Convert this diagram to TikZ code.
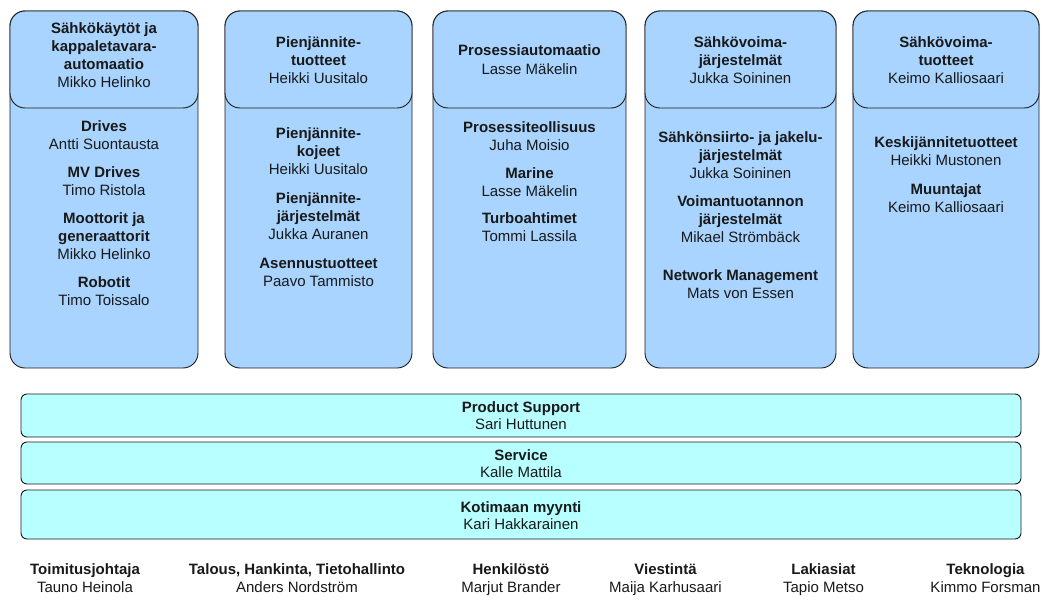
\documentclass[tikz,border=0pt]{standalone}
\usepackage{fontspec}
\setmainfont{Liberation Sans}
\definecolor{colblue}{HTML}{A8D4FF}
\definecolor{barcyan}{HTML}{B8FFFF}
\definecolor{edge}{HTML}{1A1A1A}
\newcommand\txtline[5]{\node[#4] (#1) at (#2,#3) {#5};}
\begin{document}
\begin{tikzpicture}[x=1pt,y=-1pt,
  colbox/.style={draw=edge,line width=0.9pt,fill=colblue,rounded corners=15pt},
  barbox/.style={draw=edge,line width=0.9pt,fill=barcyan,rounded corners=6pt},
  boldtxt/.style={anchor=base,inner sep=0pt,font=\fontsize{15}{18}\selectfont\bfseries,text=black!90},
  plaintxt/.style={anchor=base,inner sep=0pt,font=\fontsize{15}{18}\selectfont,text=black!90}]
\useasboundingbox (0,0) rectangle (1045,613);
% columns
\foreach \n/\l/\r in {1/10/198, 2/225/412, 3/433/626, 4/645/836, 5/853/1039}{
  \draw[colbox] (\l,11) rectangle (\r,368);
  \draw[colbox] (\l,11) rectangle (\r,108);
}
% column 1
\txtline{a1}{104}{33}{boldtxt}{Sähkökäytöt ja}
\txtline{a2}{104}{51}{boldtxt}{kappaletavara-}
\txtline{a3}{104}{69}{boldtxt}{automaatio}
\txtline{a4}{104}{87}{plaintxt}{Mikko Helinko}
\txtline{a5}{104}{131}{boldtxt}{Drives}
\txtline{a6}{104}{149}{plaintxt}{Antti Suontausta}
\txtline{a7}{104}{177}{boldtxt}{MV Drives}
\txtline{a8}{104}{195}{plaintxt}{Timo Ristola}
\txtline{a9}{104}{223}{boldtxt}{Moottorit ja}
\txtline{a10}{104}{241}{boldtxt}{generaattorit}
\txtline{a11}{104}{259}{plaintxt}{Mikko Helinko}
\txtline{a12}{104}{287}{boldtxt}{Robotit}
\txtline{a13}{104}{305}{plaintxt}{Timo Toissalo}
% column 2
\txtline{b1}{318.5}{47}{boldtxt}{Pienjännite-}
\txtline{b2}{318.5}{65}{boldtxt}{tuotteet}
\txtline{b3}{318.5}{83}{plaintxt}{Heikki Uusitalo}
\txtline{b4}{318.5}{138}{boldtxt}{Pienjännite-}
\txtline{b5}{318.5}{156}{boldtxt}{kojeet}
\txtline{b6}{318.5}{174}{plaintxt}{Heikki Uusitalo}
\txtline{b7}{318.5}{203}{boldtxt}{Pienjännite-}
\txtline{b8}{318.5}{221}{boldtxt}{järjestelmät}
\txtline{b9}{318.5}{239}{plaintxt}{Jukka Auranen}
\txtline{b10}{318.5}{268}{boldtxt}{Asennustuotteet}
\txtline{b11}{318.5}{286}{plaintxt}{Paavo Tammisto}
% column 3
\txtline{c1}{529.5}{56}{boldtxt}{Prosessiautomaatio}
\txtline{c2}{529.5}{74}{plaintxt}{Lasse Mäkelin}
\txtline{c3}{529.5}{132}{boldtxt}{Prosessiteollisuus}
\txtline{c4}{529.5}{150}{plaintxt}{Juha Moisio}
\txtline{c5}{529.5}{178}{boldtxt}{Marine}
\txtline{c6}{529.5}{196}{plaintxt}{Lasse Mäkelin}
\txtline{c7}{529.5}{223}{boldtxt}{Turboahtimet}
\txtline{c8}{529.5}{241}{plaintxt}{Tommi Lassila}
% column 4
\txtline{d1}{740.5}{47}{boldtxt}{Sähkövoima-}
\txtline{d2}{740.5}{65}{boldtxt}{järjestelmät}
\txtline{d3}{740.5}{83}{plaintxt}{Jukka Soininen}
\txtline{d4}{740.5}{142}{boldtxt}{Sähkönsiirto- ja jakelu-}
\txtline{d5}{740.5}{160}{boldtxt}{järjestelmät}
\txtline{d6}{740.5}{178}{plaintxt}{Jukka Soininen}
\txtline{d7}{740.5}{206}{boldtxt}{Voimantuotannon}
\txtline{d8}{740.5}{224}{boldtxt}{järjestelmät}
\txtline{d9}{740.5}{242}{plaintxt}{Mikael Strömbäck}
\txtline{d10}{740.5}{280}{boldtxt}{Network Management}
\txtline{d11}{740.5}{298}{plaintxt}{Mats von Essen}
% column 5
\txtline{e1}{946}{47}{boldtxt}{Sähkövoima-}
\txtline{e2}{946}{65}{boldtxt}{tuotteet}
\txtline{e3}{946}{83}{plaintxt}{Keimo Kalliosaari}
\txtline{e4}{946}{147}{boldtxt}{Keskijännitetuotteet}
\txtline{e5}{946}{165}{plaintxt}{Heikki Mustonen}
\txtline{e6}{946}{194}{boldtxt}{Muuntajat}
\txtline{e7}{946}{212}{plaintxt}{Keimo Kalliosaari}
% bars
\draw[barbox] (21,394) rectangle (1021,437);
\draw[barbox] (21,442) rectangle (1021,484);
\draw[barbox] (21,490) rectangle (1021,539);
\txtline{f1}{521}{412}{boldtxt}{Product Support}
\txtline{f2}{521}{429}{plaintxt}{Sari Huttunen}
\txtline{f3}{521}{460}{boldtxt}{Service}
\txtline{f4}{521}{477}{plaintxt}{Kalle Mattila}
\txtline{f5}{521}{512}{boldtxt}{Kotimaan myynti}
\txtline{f6}{521}{529}{plaintxt}{Kari Hakkarainen}
% bottom staff
\txtline{g1}{85}{574}{boldtxt}{Toimitusjohtaja}
\txtline{g2}{85}{592}{plaintxt}{Tauno Heinola}
\txtline{g3}{297}{574}{boldtxt}{Talous, Hankinta, Tietohallinto}
\txtline{g4}{297}{592}{plaintxt}{Anders Nordström}
\txtline{g5}{511}{574}{boldtxt}{Henkilöstö}
\txtline{g6}{511}{592}{plaintxt}{Marjut Brander}
\txtline{g7}{665.5}{574}{boldtxt}{Viestintä}
\txtline{g8}{665.5}{592}{plaintxt}{Maija Karhusaari}
\txtline{g9}{823.5}{574}{boldtxt}{Lakiasiat}
\txtline{g10}{823.5}{592}{plaintxt}{Tapio Metso}
\txtline{g11}{985.5}{574}{boldtxt}{Teknologia}
\txtline{g12}{985.5}{592}{plaintxt}{Kimmo Forsman}
\end{tikzpicture}
\end{document}
